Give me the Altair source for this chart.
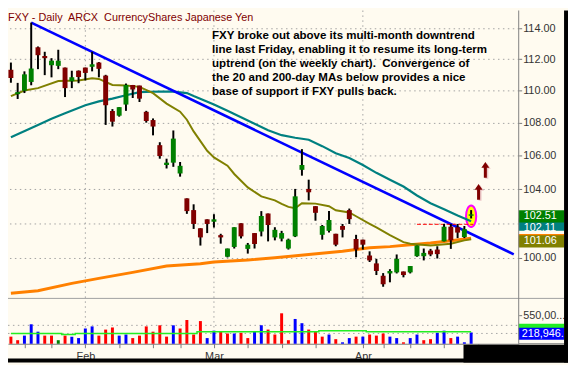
import altair as alt
import pandas as pd

# ---------------- data ----------------
# daily candles, index 0 = 15 Jan 2009 ... index 68 = 24 Apr 2009
opens = [111.33, 109.79, 110.01, 110.56, 112.77, 112.21, 111.62, 111.58, 111.47, 110.60,
         111.27, 111.47, 111.52, 111.79, 110.96, 108.74, 108.45, 109.14, 110.37, 110.33,
         108.69, 108.18, 106.64, 105.44, 105.58, 104.93, 103.45, 102.76, 101.70, 102.22,
         102.08, 101.30, 100.06, 100.62, 101.99, 100.51, 101.42, 101.51, 102.56, 101.17,
         101.10, 100.53, 101.23, 105.15, 104.01, 102.99, 101.32, 101.55, 101.38, 101.83,
         102.76, 101.08, 101.04, 100.13, 99.68, 98.98, 99.11, 99.17, 99.22, 99.17,
         100.09, 100.09, 100.41, 100.47, 100.94, 101.79, 101.76, 101.19, 102.43]
highs = [111.79, 110.50, 111.23, 114.37, 112.82, 112.48, 112.07, 112.61, 111.47, 111.27,
         111.29, 111.47, 112.48, 111.82, 111.01, 108.86, 108.98, 110.46, 110.37, 110.33,
         108.75, 108.28, 106.82, 105.82, 107.54, 105.62, 103.45, 103.10, 101.70, 102.22,
         102.52, 101.38, 100.53, 101.76, 101.99, 100.85, 101.42, 102.70, 102.56, 101.76,
         101.55, 101.10, 104.01, 106.40, 104.56, 102.99, 101.89, 102.70, 101.38, 101.95,
         102.85, 101.32, 101.04, 100.37, 99.94, 99.13, 99.35, 100.19, 99.22, 99.53,
         100.71, 100.53, 100.51, 100.66, 101.95, 101.95, 101.95, 101.83, 102.76]
lows = [110.51, 109.49, 109.86, 110.35, 111.37, 110.99, 110.85, 111.37, 109.61, 110.17,
        110.48, 110.66, 111.23, 110.85, 107.88, 107.78, 108.39, 108.75, 109.55, 109.30,
        108.02, 107.24, 105.82, 105.23, 105.33, 104.74, 102.54, 101.66, 100.70, 101.42,
        101.74, 100.81, 100.02, 100.53, 101.11, 100.24, 100.53, 101.23, 100.94, 101.00,
        100.94, 100.47, 101.19, 104.80, 103.33, 102.14, 101.04, 101.45, 100.66, 101.17,
        101.95, 100.03, 100.47, 99.76, 99.02, 98.36, 98.61, 99.11, 98.89, 99.11,
        100.06, 99.85, 100.09, 99.96, 100.94, 100.51, 101.13, 101.13, 102.27]
closes = [110.81, 109.92, 111.04, 111.41, 112.26, 112.07, 111.91, 111.91, 110.17, 110.85,
          110.87, 111.13, 111.68, 111.39, 109.10, 108.08, 108.98, 110.37, 110.08, 109.51,
          108.12, 107.78, 105.98, 105.58, 107.04, 105.39, 102.70, 101.95, 101.17, 101.95,
          102.22, 101.17, 100.53, 101.76, 101.23, 100.75, 100.79, 102.41, 101.89, 101.61,
          101.42, 101.04, 103.57, 105.44, 103.81, 102.60, 101.83, 102.18, 100.75, 101.61,
          102.23, 100.47, 100.75, 99.85, 99.25, 98.50, 99.25, 99.94, 99.02, 99.53,
          100.71, 100.28, 100.19, 100.21, 101.79, 101.00, 101.45, 101.65, 102.51]

volumes = [138000, 69000, 158000, 378000, 234000, 158000, 158000, 69000, 158000, 138000,
           110000, 296000, 337000, 158000, 275000, 316000, 158000, 179000, 110000, 158000,
           337000, 234000, 358000, 138000, 358000, 296000, 461000, 179000, 440000, 110000,
           254000, 234000, 199000, 199000, 213000, 110000, 234000, 358000, 275000, 179000,
           591000, 69000, 481000, 399000, 275000, 234000, 138000, 179000, 89000, 28000,
           110000, 138000, 138000, 179000, 158000, 199000, 138000, 110000, 28000, 110000,
           179000, 69000, 89000, 213000, 254000, 110000, 138000, 28000, 218946]
vol_dir = ['d', 'd', 'u', 'u', 'u', 'd', 'd', 'n', 'd', 'u',
           'u', 'u', 'u', 'd', 'd', 'd', 'u', 'u', 'd', 'd',
           'd', 'd', 'd', 'd', 'u', 'd', 'd', 'd', 'd', 'u',
           'u', 'd', 'd', 'u', 'd', 'd', 'u', 'u', 'd', 'd',
           'd', 'd', 'u', 'u', 'd', 'd', 'd', 'u', 'd', 'u',
           'u', 'd', 'u', 'd', 'd', 'd', 'u', 'u', 'd', 'u',
           'u', 'd', 'd', 'u', 'u', 'd', 'u', 'u', 'u']
vol_ma = [199000, 199000, 199000, 199000, 199000, 199000, 199000, 199000, 179000, 179000,
          199000, 199000, 199000, 199000, 199000, 199000, 199000, 199000, 199000, 199000,
          199000, 199000, 199000, 199000, 199000, 199000, 199000, 199000, 234000, 234000,
          234000, 234000, 234000, 234000, 234000, 234000, 234000, 234000, 234000, 234000,
          234000, 234000, 234000, 234000, 234000, 234000, 254000, 254000, 254000, 254000,
          254000, 254000, 254000, 234000, 234000, 234000, 234000, 234000, 234000, 234000,
          234000, 234000, 234000, 234000, 234000, 234000, 234000, 234000, 234000]

# moving averages (read at the positions where they were measured)
ma50_i = [0, 4, 6, 8, 11, 13, 15, 17, 19, 22, 24, 26, 27, 30, 32, 34, 36, 38, 40, 42,
          44, 46, 48, 50, 52, 54, 56, 58, 60, 62, 64, 66, 68]
ma50_v = [107.13, 107.88, 108.26, 108.60, 109.10, 109.34, 109.51, 109.72, 109.92, 109.96,
          109.95, 109.86, 109.67, 109.15, 108.75, 108.35, 107.95, 107.55, 107.25, 107.09,
          106.97, 106.58, 106.15, 105.86, 105.44, 104.97, 104.56, 104.15, 103.62, 103.16,
          102.81, 102.44, 102.11]
ma20_i = [0, 2, 4, 7, 10, 12, 13, 15, 17, 19, 21, 23, 25, 26, 27, 29, 30, 32, 33, 35,
          37, 39, 40, 41, 42, 43, 45, 47, 48, 50, 51, 53, 54, 56, 58, 59, 62, 65, 67, 68]
ma20_v = [109.67, 110.02, 110.17, 110.62, 110.65, 110.79, 110.75, 110.37, 110.33, 110.25,
          109.85, 109.20, 108.70, 108.20, 107.48, 106.30, 105.90, 105.40, 104.90, 104.10,
          103.57, 103.33, 103.13, 102.95, 102.87, 103.16, 103.14, 102.99, 102.75, 102.62,
          102.40, 101.95, 101.75, 101.30, 100.90, 100.81, 100.70, 100.81, 101.00, 101.06]
ma200_i = [0, 4, 9, 13, 18, 23, 28, 30, 35, 39, 44, 49, 53, 56, 59, 62, 65, 68]
ma200_v = [98.00, 98.14, 98.55, 98.83, 99.17, 99.53, 99.66, 99.76, 99.87, 100.00,
           100.19, 100.37, 100.57, 100.64, 100.75, 100.85, 100.98, 101.12]

# annotations
trend_i = [3, 74.3]
trend_v = [114.37, 100.20]
res_i = [60, 68.3]
res_v = [101.93]
circle_i = [68]
circle_v = [102.40]
arrow_i = [69.1, 70.1]
arrow_v = [103.84, 105.15]

# axes / labels
price_ticks = [100, 102, 104, 106, 108, 110, 112, 114]
hidden_price_labels = [102]          # covered by the value tags in the reference
week_ticks = [2, 6, 11, 16, 21, 25, 30, 35, 40, 45, 52, 55, 59, 64, 69]
month_idx = [11, 30, 52]
month_lbl = ['Feb', 'Mar', 'Apr']
vol_ticks = [550000]
vol_grid = [200000, 357000]
tag_vals = [102.11, 102.51, 101.12, 101.06]
tag_text = ['102.11', '102.51', '', '101.06']
vol_tag_vals = [234000, 218946]
vol_tag_text = ['', '218,946.']
title_text = 'FXY - Daily\u00a0 ARCX\u00a0 CurrencyShares Japanese Yen'
note_lines = ['FXY broke out above its multi-month downtrend',
              'line last Friday, enabling it to resume its long-term',
              'uptrend (on the weekly chart).\u00a0 Convergence of',
              'the 20 and 200-day MAs below provides a nice',
              'base of support if FXY pulls back.']

# ---------------- styling / geometry ----------------
FONT = 'Liberation Sans'
CREAM = '#FFFBF0'
W, H = 518, 338          # plot area (price + volume panels)
PB = 292                 # bottom of the price panel
GRID = '#a3a3a3'
AXC = '#7a7a7a'
TXT = '#333333'

xs = alt.Scale(domain=[0.3, 74.3], nice=False, zero=False)
ps = alt.Scale(type='log', domain=[97.708, 115.161], range=[PB, 0], nice=False)
vs = alt.Scale(domain=[0, 880000], range=[H, PB], nice=False, zero=True)

label_expr = ' : '.join(f"datum.value == {m} ? '{l}'" for m, l in zip(month_idx, month_lbl)) + " : ''"
x_axis = alt.Axis(values=week_ticks, labelExpr=label_expr, title=None, grid=False,
                  tickSize=4, tickColor=AXC, domainColor=AXC, labelFont=FONT, labelFontSize=11,
                  labelColor=TXT, labelPadding=3, labelFlush=False, labelOverlap=False)
p_label_expr = ' || '.join(f'datum.value == {v}' for v in hidden_price_labels) + " ? '' : format(datum.value, '.2f')"
p_axis = alt.Axis(orient='right', values=price_ticks, labelExpr=p_label_expr, title=None, grid=True,
                  gridColor=GRID, gridDash=[1.5, 3.5], tickSize=3, tickColor=AXC, domain=False,
                  labelFont=FONT, labelFontSize=11, labelColor=TXT, labelPadding=1)
v_axis = alt.Axis(orient='right', values=vol_ticks, labelExpr="'550,00...'", title=None, grid=False,
                  tickSize=3, tickColor=AXC, domain=False, labelFont=FONT, labelFontSize=11,
                  labelColor=TXT, labelPadding=1)


def X(f):
    return alt.X(f, type='quantitative', scale=xs, axis=x_axis)


def PY(f):
    return alt.Y(f, type='quantitative', scale=ps, axis=p_axis)


def VY(f):
    return alt.Y(f, type='quantitative', scale=vs, axis=v_axis)


one = pd.DataFrame({'k': [0]})


def fixed_rule(x0, x1, y0, y1, color, width=1, dash=None):
    kw = dict(color=color, strokeWidth=width)
    if dash:
        kw['strokeDash'] = dash
    return alt.Chart(one).mark_rule(**kw).encode(
        x=alt.value(x0), x2=alt.value(x1), y=alt.value(y0), y2=alt.value(y1))


def fixed_rect(x0, x1, y0, y1, color):
    return alt.Chart(one).mark_rect(color=color).encode(
        x=alt.value(x0), x2=alt.value(x1), y=alt.value(y0), y2=alt.value(y1))


ELLIPSE = 'M0,-1A0.47,1 0 1,1 0,1A0.47,1 0 1,1 0,-1Z'
ARROW = 'M0,-1L0.5,-0.25L0.19,-0.25L0.19,1L-0.19,1L-0.19,-0.25L-0.5,-0.25Z'
BOX = 'M-1,-0.27L1,-0.27L1,0.27L-1,0.27Z'

# ---------------- price panel ----------------
n = len(closes)
cdf = pd.DataFrame({'i': list(range(n)), 'open': opens, 'high': highs, 'low': lows, 'close': closes})
up = cdf[cdf['close'] >= cdf['open']]
down = cdf[cdf['close'] < cdf['open']]

month_df = pd.DataFrame({'i': month_idx})
month_rules = alt.Chart(month_df).mark_rule(color=GRID, strokeDash=[1.5, 3.5]).encode(
    x=X('i'), y=alt.value(0), y2=alt.value(H))


def line(i_list, v_list, color, width):
    df = pd.DataFrame({'i': i_list, 'v': v_list})
    return alt.Chart(df).mark_line(color=color, strokeWidth=width).encode(x=X('i'), y=PY('v'))


ellipse = alt.Chart(pd.DataFrame({'i': circle_i, 'v': circle_v})).mark_point(
    shape=ELLIPSE, size=484, filled=True, fill='#FFFF00', stroke='#FF00FF', strokeWidth=2,
    opacity=1).encode(x=X('i'), y=PY('v'))

res_line = alt.Chart(pd.DataFrame({'i0': [res_i[0]], 'i1': [res_i[1]], 'v': res_v})).mark_rule(
    color='#FF0000', strokeDash=[4, 2], strokeWidth=1).encode(x=X('i0'), x2='i1', y=PY('v'))

wicks = alt.Chart(cdf).mark_rule(color='black', strokeWidth=2).encode(x=X('i'), y=PY('low'), y2='high')
bodies_up = alt.Chart(up).mark_bar(size=5, color='#008000').encode(x=X('i'), y=PY('open'), y2='close')
bodies_dn = alt.Chart(down).mark_bar(size=5, color='#800000').encode(x=X('i'), y=PY('open'), y2='close')

arrow_df = pd.DataFrame({'i': arrow_i, 'v': arrow_v})
arrow_shadow = alt.Chart(arrow_df).mark_point(shape=ARROW, size=256, filled=True, color='#EDC9C9',
                                              opacity=1, xOffset=1.5, yOffset=1).encode(x=X('i'), y=PY('v'))
arrows = alt.Chart(arrow_df).mark_point(shape=ARROW, size=256, filled=True, color='#800000',
                                        opacity=1).encode(x=X('i'), y=PY('v'))

tag_colors = ['#008080', '#008000', '#FF8000', '#808000']
tag_box_off = [3.5, 2, 2, 2]
tag_txt_off = [6.5, 2, 2, 2]
tag_layers = []
for v, t, c, bo, to in zip(tag_vals, tag_text, tag_colors, tag_box_off, tag_txt_off):
    tdf = pd.DataFrame({'v': [v], 't': [t]})
    tag_layers.append(alt.Chart(tdf).mark_point(shape=BOX, size=2116, filled=True, color=c, opacity=1,
                                                yOffset=bo).encode(x=alt.value(W + 23), y=PY('v')))
    if t:
        tag_layers.append(alt.Chart(tdf).mark_text(align='left', baseline='middle', color='white',
                                                   font=FONT, fontSize=11, yOffset=to).encode(
            x=alt.value(W + 5), y=PY('v'), text='t:N'))

price = alt.layer(
    month_rules,
    ellipse,
    line(ma200_i, ma200_v, '#FF8000', 3),
    line(ma50_i, ma50_v, '#008080', 2.2),
    line(ma20_i, ma20_v, '#808000', 2),
    line(trend_i, trend_v, '#0000FF', 2.6),
    res_line,
    wicks, bodies_up, bodies_dn,
    arrow_shadow, arrows,
    *tag_layers,
)

# ---------------- volume panel ----------------
vdf = pd.DataFrame({'i': list(range(n)), 'vol': volumes, 'dir': vol_dir, 'ma': vol_ma})
vgrid = alt.Chart(pd.DataFrame({'g': vol_grid})).mark_rule(color=GRID, strokeDash=[1.5, 3.5]).encode(
    y=VY('g'), x=alt.value(0), x2=alt.value(W))
vbar_layers = []
for d, c in [('u', '#0000FF'), ('d', '#FF0000'), ('n', '#008000')]:
    vbar_layers.append(alt.Chart(vdf[vdf['dir'] == d]).mark_bar(size=3, color=c).encode(
        x=X('i'), y=VY('vol')))
vma = alt.Chart(vdf).mark_line(color='#22EE22', strokeWidth=1.5, interpolate='step').encode(
    x=X('i'), y=VY('ma'))
vtag_layers = []
for v, t, c, off in zip(vol_tag_vals, vol_tag_text, ['#22EE22', '#0000FF'], [-1.8, 1.3]):
    tdf = pd.DataFrame({'v': [v], 't': [t]})
    vtag_layers.append(alt.Chart(tdf).mark_point(shape=BOX, size=2116, filled=True, color=c, opacity=1,
                                                 yOffset=off).encode(x=alt.value(W + 23), y=VY('v')))
    if t:
        vtag_layers.append(alt.Chart(tdf).mark_text(align='left', baseline='middle', color='white',
                                                    font=FONT, fontSize=11, yOffset=off).encode(
            x=alt.value(W + 3), y=VY('v'), text='t:N'))

volume = alt.layer(vgrid, *vbar_layers, vma, *vtag_layers)

# ---------------- frame / text ----------------
frame = [
    fixed_rule(0, W + 46, PB, PB, '#a0a0a0'),
    fixed_rule(W, W, 0, H, '#808080'),
    fixed_rule(W, W + 46, H, H, AXC),
]
borders = [
    fixed_rect(W + 46, W + 50, 0, 357, '#000000'),
    fixed_rect(0, W + 50, 353, 357, '#000000'),
    fixed_rect(462, W + 50, H + 1, 357, '#000000'),
]
title = alt.Chart(one).mark_text(text=title_text, align='left', baseline='alphabetic', font=FONT,
                                 fontSize=11, color='#800000').encode(x=alt.value(0), y=alt.value(10.3))
note = alt.Chart(one).mark_text(text=note_lines, align='left', baseline='alphabetic', font=FONT,
                                fontSize=11.7, fontWeight='bold', lineHeight=14.2, color='#000000').encode(
    x=alt.value(207), y=alt.value(29.3))

chart = alt.layer(
    price, volume, *frame, title, note, *borders
).resolve_scale(y='independent').properties(
    width=W, height=H,
    autosize=alt.AutoSizeParams(type='none'),
    padding={'left': 0, 'top': 0, 'right': 50, 'bottom': 19},
    background=CREAM,
).configure_view(stroke=None)

chart.save('out.html', embed_options={'renderer': 'svg', 'actions': False})
